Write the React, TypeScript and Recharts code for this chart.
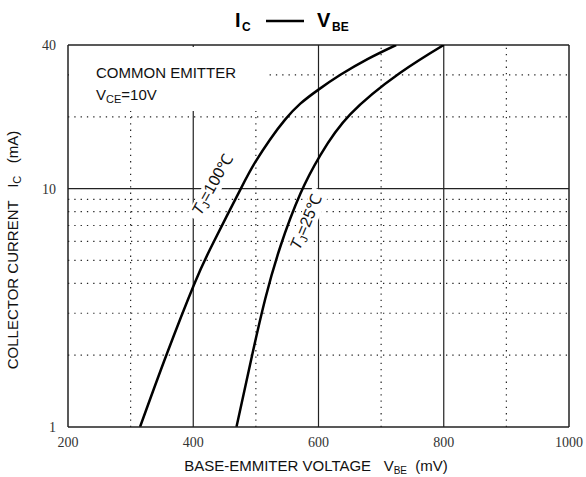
import React from "react";
import { LineChart, Line, XAxis, YAxis, ReferenceLine } from "recharts";

// T_J = 100°C curve
const vbe100 = [315, 357, 402, 433, 476, 499, 523, 547, 571, 600, 635, 679, 724];
const ic100 = [1, 2, 4, 6, 10, 12.9, 16.1, 19.5, 22.7, 26, 30, 35, 40];

// T_J = 25°C curve
const vbe25 = [469, 494, 515, 539, 571, 603, 651, 730, 800];
const ic25 = [1, 2, 3.45, 5.7, 9.5, 13.8, 20.5, 30.5, 40];

const xTicks = [200, 400, 600, 800, 1000];
const yTicks = [1, 10, 40];
const xSolid = [400, 600, 800];
const xDotted = [300, 500, 700, 900];
const ySolid = [10];
const yDotted = [2, 3, 4, 5, 6, 7, 8, 9, 20, 30];

const t100 = vbe100.map((v, i) => ({ vbe: v, ic: ic100[i] }));
const t25 = vbe25.map((v, i) => ({ vbe: v, ic: ic25[i] }));

const INK = "#222";
const DOT = "1.3 5";
const sans = "'Liberation Sans', Arial, sans-serif";
const serif = "'Liberation Serif', 'Times New Roman', serif";

export default function App() {
  return (
    <div style={{ position: "absolute", left: 0, top: 0, width: 586, height: 477, background: "#fff" }}>
      <LineChart
        width={586}
        height={477}
        margin={{ top: 45, right: 17, bottom: 0, left: 7 }}
      >
        <XAxis
          type="number"
          dataKey="vbe"
          domain={[200, 1000]}
          ticks={xTicks}
          allowDataOverflow
          height={50}
          tickLine={false}
          axisLine={{ stroke: INK, strokeWidth: 1.5 }}
          tick={{ fontFamily: serif, fontSize: 14, fill: "#333" }}
          tickMargin={4}
        />
        <YAxis
          type="number"
          dataKey="ic"
          scale="log"
          domain={[1, 40]}
          ticks={yTicks}
          allowDataOverflow
          width={61}
          tickLine={false}
          axisLine={{ stroke: INK, strokeWidth: 1.5 }}
          tick={{ fontFamily: serif, fontSize: 14, fill: "#333" }}
          tickMargin={6}
        />
        {xDotted.map((x) => (
          <ReferenceLine key={"xd" + x} x={x} stroke={INK} strokeWidth={1.2} strokeDasharray={DOT} />
        ))}
        {yDotted.map((y) => (
          <ReferenceLine key={"yd" + y} y={y} stroke={INK} strokeWidth={1.2} strokeDasharray={DOT} />
        ))}
        {xSolid.map((x) => (
          <ReferenceLine key={"xs" + x} x={x} stroke={INK} strokeWidth={1.2} />
        ))}
        {ySolid.map((y) => (
          <ReferenceLine key={"ys" + y} y={y} stroke={INK} strokeWidth={1.2} />
        ))}
        <ReferenceLine x={1000} stroke={INK} strokeWidth={1.5} />
        <ReferenceLine y={40} stroke={INK} strokeWidth={1.5} />
        <Line
          data={t100}
          dataKey="ic"
          type="natural"
          stroke="#000"
          strokeWidth={2.5}
          dot={false}
          isAnimationActive={false}
        />
        <Line
          data={t25}
          dataKey="ic"
          type="natural"
          stroke="#000"
          strokeWidth={2.5}
          dot={false}
          isAnimationActive={false}
        />
      </LineChart>
      <svg
        width={586}
        height={477}
        style={{ position: "absolute", left: 0, top: 0, pointerEvents: "none" }}
      >
        {/* title */}
        <g fontFamily={sans} fontWeight="bold" fill="#000">
          <text x={235} y={27} fontSize={20}>I</text>
          <text x={242} y={31} fontSize={12}>C</text>
          <line x1={266} y1={21} x2={304} y2={21} stroke="#000" strokeWidth={2.5} />
          <text x={317} y={27} fontSize={20}>V</text>
          <text x={332} y={31} fontSize={12}>BE</text>
        </g>
        {/* condition box */}
        <rect x={69} y={47} width={200} height={64} fill="#fff" />
        <g fontFamily={sans} fontSize={15} fill="#111">
          <text x={96} y={78}>COMMON EMITTER</text>
          <text x={96} y={100}>
            V<tspan fontSize={11} dy={3}>CE</tspan>
            <tspan dy={-3}>=10V</tspan>
          </text>
        </g>
        {/* curve labels */}
        <g transform="translate(217,187) rotate(-61)">
          <rect x={-39} y={-13} width={78} height={18} fill="#fff" />
          <text textAnchor="middle" fontFamily={sans} fontSize={16} fill="#111">
            <tspan fontStyle="italic">T</tspan>
            <tspan fontSize={11} dy={3}>J</tspan>
            <tspan dy={-3}>=100℃</tspan>
          </text>
        </g>
        <g transform="translate(311,224) rotate(-67)">
          <rect x={-35} y={-13} width={70} height={18} fill="#fff" />
          <text textAnchor="middle" fontFamily={sans} fontSize={16} fill="#111">
            <tspan fontStyle="italic">T</tspan>
            <tspan fontSize={11} dy={3}>J</tspan>
            <tspan dy={-3}>=25℃</tspan>
          </text>
        </g>
        {/* axis titles */}
        <text
          transform="translate(18,250) rotate(-90)"
          textAnchor="middle"
          fontFamily={sans}
          fontSize={15}
          fill="#111"
        >
          COLLECTOR CURRENT{"\u00a0\u00a0\u00a0"}I<tspan fontSize={11} dy={3}>C</tspan>
          <tspan dy={-3}>{"\u00a0\u00a0\u00a0"}(mA)</tspan>
        </text>
        <text x={316} y={471} textAnchor="middle" fontFamily={sans} fontSize={15} fill="#111">
          BASE-EMMITER VOLTAGE{"\u00a0\u00a0\u00a0"}V<tspan fontSize={10} dy={3}>BE</tspan>
          <tspan dy={-3}>{"\u00a0\u00a0"}(mV)</tspan>
        </text>
      </svg>
    </div>
  );
}
